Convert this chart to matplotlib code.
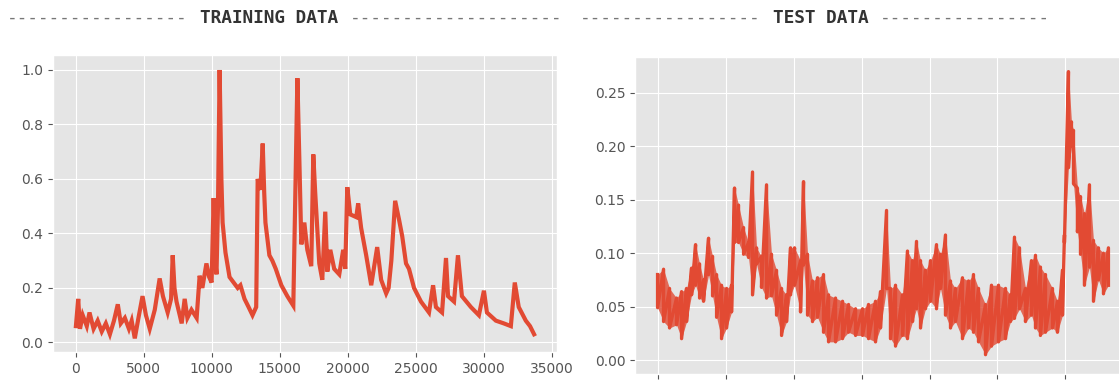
import numpy as np
import matplotlib
matplotlib.use("Agg")
import matplotlib.pyplot as plt

plt.style.use("ggplot")

# training series: sample index and value
train_idx = [0, 170, 300, 500, 800, 1000, 1300, 1600, 1900, 2200, 2500, 2800,
             3080, 3300, 3600, 3900, 4100, 4330, 4600, 4900, 5150, 5430, 5800,
             6160, 6400, 6750, 7000, 7120, 7250, 7400, 7780, 8000, 8200, 8500,
             8880, 9100, 9300, 9600, 9800, 9980, 10130, 10250, 10340, 10450,
             10570, 10700, 10790, 11000, 11300, 11600, 11900, 12100, 12400,
             12700, 12990, 13260, 13370, 13570, 13740, 13850, 13940, 14230,
             14450, 14700, 15110, 15550, 15990, 16140, 16290, 16430, 16580,
             16800, 17020, 17310, 17460, 17600, 17900, 18120, 18340, 18490,
             18710, 19000, 19370, 19660, 19810, 19960, 20180, 20620, 20760,
             20980, 21350, 21720, 22160, 22450, 22820, 23000, 23200, 23480,
             23770, 24000, 24280, 24500, 24870, 25380, 25970, 26270, 26480,
             26930, 27220, 27370, 27810, 28100, 28390, 29050, 29640, 30010,
             30230, 30890, 31470, 31990, 32280, 32570, 33090, 33400, 33700]
train_val = [0.06, 0.16, 0.05, 0.10, 0.06, 0.11, 0.05, 0.08, 0.04, 0.07, 0.03,
             0.08, 0.14, 0.07, 0.09, 0.05, 0.08, 0.015, 0.09, 0.17, 0.10, 0.05,
             0.12, 0.235, 0.17, 0.11, 0.16, 0.32, 0.20, 0.15, 0.07, 0.16, 0.09,
             0.12, 0.09, 0.245, 0.20, 0.29, 0.24, 0.22, 0.53, 0.30, 0.25, 0.50,
             1.0, 0.60, 0.44, 0.33, 0.24, 0.22, 0.20, 0.21, 0.16, 0.13, 0.10,
             0.13, 0.60, 0.56, 0.73, 0.55, 0.44, 0.32, 0.30, 0.27, 0.21, 0.17,
             0.135, 0.55, 0.97, 0.68, 0.36, 0.44, 0.34, 0.28, 0.69, 0.55, 0.29,
             0.23, 0.48, 0.26, 0.34, 0.27, 0.25, 0.34, 0.27, 0.57, 0.47, 0.46,
             0.51, 0.42, 0.32, 0.21, 0.35, 0.23, 0.18, 0.20, 0.30, 0.52, 0.45,
             0.39, 0.29, 0.27, 0.20, 0.15, 0.11, 0.21, 0.13, 0.11, 0.31, 0.17,
             0.15, 0.32, 0.17, 0.13, 0.10, 0.19, 0.11, 0.08, 0.07, 0.06, 0.22,
             0.13, 0.08, 0.06, 0.03]

# test series: sample index with the high and low of the noisy band
test_idx = [0, 88, 176, 279, 353, 426, 500, 559, 618, 676, 750, 809, 868, 941,
            1015, 1088, 1132, 1191, 1265, 1338, 1397, 1456, 1529, 1603, 1676,
            1750, 1824, 1897, 1956, 2015, 2103, 2147, 2206, 2279, 2353, 2441,
            2515, 2618, 2721, 2809, 2912, 3015, 3103, 3206, 3279, 3368, 3426,
            3500, 3603, 3676, 3750, 3809, 3868, 3941, 4015, 4103, 4162, 4235,
            4309, 4382, 4485, 4574, 4647, 4721, 4824, 4912, 5015, 5118, 5191,
            5250, 5324, 5412, 5500, 5559, 5632, 5706, 5809, 5882, 5956, 5985,
            6044, 6088, 6118, 6176, 6221, 6279, 6353, 6412, 6485, 6559, 6632]
test_hi = [0.080, 0.085, 0.067, 0.058, 0.064, 0.067, 0.086, 0.108, 0.090,
           0.075, 0.114, 0.097, 0.080, 0.070, 0.067, 0.070, 0.161, 0.145,
           0.124, 0.110, 0.176, 0.105, 0.097, 0.164, 0.099, 0.084, 0.067,
           0.061, 0.105, 0.105, 0.093, 0.167, 0.099, 0.074, 0.077, 0.080,
           0.061, 0.058, 0.055, 0.052, 0.048, 0.048, 0.052, 0.055, 0.064,
           0.140, 0.067, 0.070, 0.061, 0.102, 0.093, 0.111, 0.093, 0.084,
           0.093, 0.108, 0.099, 0.117, 0.074, 0.067, 0.077, 0.074, 0.080,
           0.067, 0.052, 0.070, 0.070, 0.067, 0.061, 0.115, 0.105, 0.067,
           0.093, 0.098, 0.087, 0.080, 0.067, 0.055, 0.084, 0.117, 0.270,
           0.223, 0.215, 0.161, 0.153, 0.137, 0.164, 0.112, 0.105, 0.100, 0.105]
test_lo = [0.049, 0.036, 0.030, 0.033, 0.020, 0.036, 0.061, 0.070, 0.058,
           0.055, 0.080, 0.060, 0.040, 0.020, 0.030, 0.045, 0.110, 0.110,
           0.099, 0.096, 0.061, 0.090, 0.068, 0.058, 0.060, 0.042, 0.023,
           0.036, 0.061, 0.070, 0.045, 0.089, 0.042, 0.036, 0.040, 0.026,
           0.017, 0.017, 0.020, 0.026, 0.023, 0.023, 0.020, 0.017, 0.030,
           0.067, 0.020, 0.013, 0.023, 0.020, 0.036, 0.048, 0.030, 0.048,
           0.055, 0.048, 0.067, 0.042, 0.030, 0.036, 0.020, 0.030, 0.026,
           0.017, 0.005, 0.013, 0.017, 0.020, 0.036, 0.039, 0.048, 0.036,
           0.042, 0.030, 0.023, 0.026, 0.030, 0.026, 0.042, 0.110, 0.180,
           0.200, 0.165, 0.120, 0.099, 0.070, 0.087, 0.055, 0.075, 0.062, 0.070]

W, H = 1119, 380
fig = plt.figure(figsize=(W / 100, H / 100), dpi=100)

def px_axes(left, top, right, bottom):
    return fig.add_axes([left / W, 1 - bottom / H, (right - left) / W, (bottom - top) / H])

ax1 = px_axes(53, 55, 557, 352)
ax1.plot(train_idx, train_val, color="#E24A33", lw=3.0, solid_joinstyle="miter")
ax1.set_xlim(-1685, 35385)
ax1.set_ylim(-0.035, 1.055)
ax1.set_xticks(np.arange(0, 35001, 5000))
ax1.set_yticks(np.arange(0, 1.01, 0.2))
ax1.yaxis.set_major_formatter(matplotlib.ticker.FormatStrFormatter("%.1f"))

# zigzag through the band: high then low at each index
tx = np.repeat(test_idx, 2)
ty = np.column_stack([test_hi, test_lo]).ravel()
ax2 = px_axes(635, 57, 1131, 374)
ax2.fill_between(test_idx, test_lo, test_hi, color="#E24A33", lw=0, alpha=0.8)
ax2.plot(tx, ty, color="#E24A33", lw=2.4)
ax2.set_xlim(-332, 6964)
ax2.set_ylim(-0.0131, 0.2837)
ax2.set_xticks(np.arange(0, 6001, 1000))
ax2.set_yticks(np.arange(0, 0.26, 0.05))
ax2.yaxis.set_major_formatter(matplotlib.ticker.FormatStrFormatter("%.2f"))
# the x labels of this panel fall below the cropped edge in the reference
ax2.tick_params(axis="x", labelbottom=False)

for ax in (ax1, ax2):
    ax.tick_params(labelsize=10, colors="#555555")

# header lines: grey dashes around a bold monospace label
fs = 12.8
cw = 0.602 * fs * 100 / 72  # width of one monospace character in pixels
def header(x0, label, n_left, n_right):
    y = 1 - 18 / H
    kw = dict(family="DejaVu Sans Mono", fontsize=fs, ha="left", va="center")
    fig.text(x0 / W, y, "-" * n_left, color="#777777", **kw)
    fig.text((x0 + (n_left + 1) * cw) / W, y, label, color="#333333",
             fontweight="bold", **kw)
    fig.text((x0 + (n_left + len(label) + 2) * cw) / W, y, "-" * n_right,
             color="#777777", **kw)

header(7, "TRAINING DATA", 17, 20)
header(580, "TEST DATA", 17, 16)

fig.savefig("out.png", dpi=100)
